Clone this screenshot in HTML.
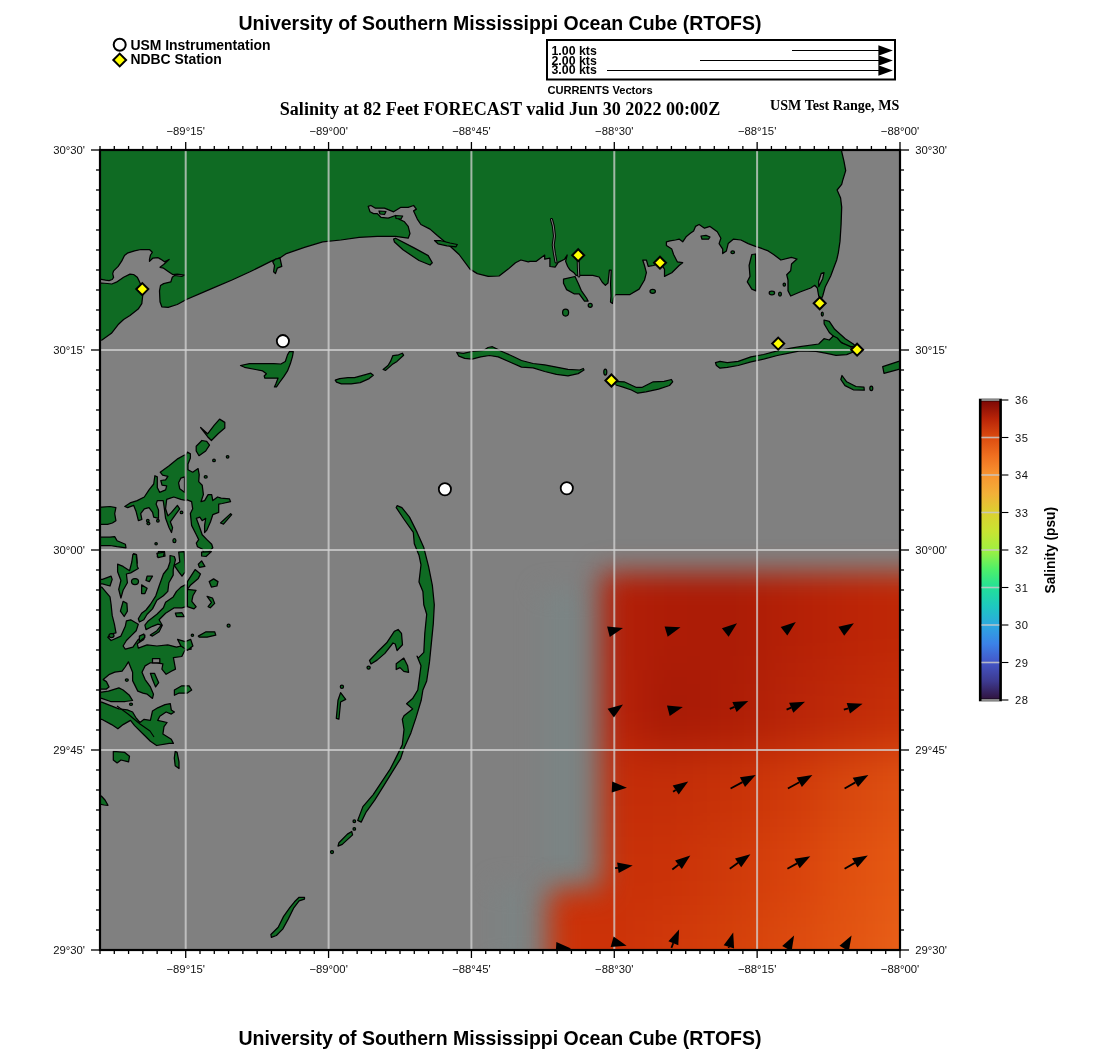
<!DOCTYPE html>
<html><head><meta charset="utf-8">
<style>
html,body{margin:0;padding:0;background:#fff;width:1100px;height:1050px;overflow:hidden}
svg{display:block;will-change:transform}
text{font-family:"Liberation Sans",sans-serif}
.sb{font-family:"Liberation Sans",sans-serif;font-weight:bold}
.sr{font-family:"Liberation Serif",serif;font-weight:bold}
.ax{font-size:11.3px;fill:#111}
</style></head><body>
<svg width="1100" height="1050" viewBox="0 0 1100 1050">
<defs>
<clipPath id="mapclip"><rect x="100" y="150" width="800" height="800"/></clipPath>
<filter id="blur" color-interpolation-filters="sRGB" x="-20%" y="-20%" width="140%" height="140%"><feGaussianBlur stdDeviation="12"/></filter>
<filter id="blurbig" color-interpolation-filters="sRGB" x="-30%" y="-30%" width="160%" height="160%"><feGaussianBlur stdDeviation="22"/></filter>
<filter id="blurm" color-interpolation-filters="sRGB" x="-20%" y="-20%" width="140%" height="140%"><feGaussianBlur stdDeviation="14"/></filter>
<mask id="fmask" maskUnits="userSpaceOnUse" x="0" y="0" width="1100" height="1050"><g filter="url(#blurm)"><rect x="601" y="572" width="400" height="500" fill="#fff"/><rect x="548" y="888" width="100" height="200" fill="#fff"/></g></mask>
<linearGradient id="cbar" x1="0" y1="1" x2="0" y2="0">
<stop offset="0" stop-color="#30123b"/>
<stop offset="0.0625" stop-color="#3d3a90"/>
<stop offset="0.125" stop-color="#4456c8"/>
<stop offset="0.1875" stop-color="#3b82e8"/>
<stop offset="0.25" stop-color="#2ca8e0"/>
<stop offset="0.3125" stop-color="#1ec8c0"/>
<stop offset="0.375" stop-color="#22e098"/>
<stop offset="0.4375" stop-color="#50f068"/>
<stop offset="0.5" stop-color="#a0f040"/>
<stop offset="0.5625" stop-color="#c8e432"/>
<stop offset="0.625" stop-color="#dcd030"/>
<stop offset="0.6875" stop-color="#f2b038"/>
<stop offset="0.75" stop-color="#f89430"/>
<stop offset="0.8125" stop-color="#f07020"/>
<stop offset="0.875" stop-color="#dc4c10"/>
<stop offset="0.9375" stop-color="#b82408"/>
<stop offset="1" stop-color="#7a0806"/>
</linearGradient>
</defs>

<!-- titles -->
<text class="sb" x="500" y="30.3" font-size="19.5" text-anchor="middle">University of Southern Mississippi Ocean Cube (RTOFS)</text>
<text class="sb" x="500" y="1045" font-size="19.5" text-anchor="middle">University of Southern Mississippi Ocean Cube (RTOFS)</text>

<!-- legend -->
<circle cx="119.7" cy="44.8" r="6" fill="#fff" stroke="#000" stroke-width="2"/>
<path d="M119.7 53.6 L126.1 60 L119.7 66.4 L113.3 60 Z" fill="#ffff00" stroke="#000" stroke-width="2"/>
<text class="sb" x="130.4" y="49.5" font-size="13.95">USM Instrumentation</text>
<text class="sb" x="130.4" y="64.2" font-size="13.95">NDBC Station</text>

<!-- vector legend -->
<rect x="547" y="40" width="348" height="39.5" fill="#fff" stroke="#000" stroke-width="2"/>
<text class="sb" x="551.5" y="54.6" font-size="12.35">1.00 kts</text>
<text class="sb" x="551.5" y="64.5" font-size="12.35">2.00 kts</text>
<text class="sb" x="551.5" y="74.3" font-size="12.35">3.00 kts</text>
<g stroke="#000" stroke-width="1">
<line x1="792" y1="50.5" x2="880" y2="50.5"/>
<line x1="700" y1="60.5" x2="880" y2="60.5"/>
<line x1="607" y1="70.5" x2="880" y2="70.5"/>
</g>
<g fill="#000">
<path d="M878.4 45.2 L892.8 50.5 L878.4 55.8 Z"/>
<path d="M878.4 55.2 L892.8 60.5 L878.4 65.8 Z"/>
<path d="M878.4 65.2 L892.8 70.5 L878.4 75.8 Z"/>
</g>
<text class="sb" x="547.4" y="93.9" font-size="11.15">CURRENTS Vectors</text>

<text class="sr" x="500" y="115" font-size="18.1" text-anchor="middle">Salinity at 82 Feet FORECAST valid Jun 30 2022 00:00Z</text>
<text class="sr" x="899.3" y="110.4" font-size="14.1" text-anchor="end">USM Test Range, MS</text>

<!-- MAP -->
<g clip-path="url(#mapclip)">
<rect x="100" y="150" width="800" height="800" fill="#808080"/>
<g id="field">
<g filter="url(#blur)"><rect x="542" y="590" width="50" height="300" fill="#7b8484"/><rect x="495" y="885" width="50" height="80" fill="#7c8383"/></g>
<g mask="url(#fmask)"><g filter="url(#blurbig)">
<rect x="540" y="533" width="100" height="137" fill="#b32008"/>
<rect x="640" y="533" width="60" height="137" fill="#ad1c06"/>
<rect x="700" y="533" width="60" height="137" fill="#ab1c06"/>
<rect x="760" y="533" width="60" height="137" fill="#b42006"/>
<rect x="820" y="533" width="60" height="137" fill="#bb2406"/>
<rect x="880" y="533" width="100" height="137" fill="#c02806"/>
<rect x="540" y="670" width="100" height="80" fill="#b82208"/>
<rect x="640" y="670" width="60" height="80" fill="#a81a06"/>
<rect x="700" y="670" width="60" height="80" fill="#ad1d06"/>
<rect x="760" y="670" width="60" height="80" fill="#b82408"/>
<rect x="820" y="670" width="60" height="80" fill="#c02a08"/>
<rect x="880" y="670" width="100" height="80" fill="#c83008"/>
<rect x="540" y="750" width="100" height="80" fill="#c42c08"/>
<rect x="640" y="750" width="60" height="80" fill="#c42e08"/>
<rect x="700" y="750" width="60" height="80" fill="#c83208"/>
<rect x="760" y="750" width="60" height="80" fill="#d03a0a"/>
<rect x="820" y="750" width="60" height="80" fill="#d8480e"/>
<rect x="880" y="750" width="100" height="80" fill="#e05212"/>
<rect x="540" y="830" width="100" height="80" fill="#c83008"/>
<rect x="640" y="830" width="60" height="80" fill="#ca3208"/>
<rect x="700" y="830" width="60" height="80" fill="#cf3a0a"/>
<rect x="760" y="830" width="60" height="80" fill="#d8420c"/>
<rect x="820" y="830" width="60" height="80" fill="#e0500f"/>
<rect x="880" y="830" width="100" height="80" fill="#e65a14"/>
<rect x="540" y="910" width="100" height="130" fill="#cc3208"/>
<rect x="640" y="910" width="60" height="130" fill="#d0380a"/>
<rect x="700" y="910" width="60" height="130" fill="#d4400a"/>
<rect x="760" y="910" width="60" height="130" fill="#dc4a0e"/>
<rect x="820" y="910" width="60" height="130" fill="#e25412"/>
<rect x="880" y="910" width="100" height="130" fill="#e86018"/>
<rect x="480" y="880" width="60" height="160" fill="#cc3008"/>
</g></g>
</g>
<g id="land" fill="#0f6b23" stroke="#000" stroke-width="1.25" stroke-linejoin="round">
<path d="M95.0 145.0 L841.7 145.0 L841.7 151.7 L844.0 161.4 L845.7 170.6 L842.9 179.7 L841.7 184.3 L837.1 190.0 L840.6 198.0 L841.7 207.1 L841.1 224.3 L840.0 241.4 L838.3 252.9 L836.7 260.0 L834.7 265.3 L830.7 276.0 L825.3 286.7 L822.7 296.0 L821.3 299.0 L818.7 296.0 L817.3 288.0 L814.7 285.3 L810.7 288.0 L800.0 292.0 L790.7 296.0 L788.0 290.7 L788.0 280.0 L786.7 274.7 L790.7 270.7 L791.5 264.0 L797.0 259.0 L791.4 257.4 L780.9 260.0 L773.6 254.5 L768.2 250.9 L760.9 248.2 L755.5 246.4 L748.2 243.6 L740.9 240.0 L733.6 239.1 L728.2 243.6 L726.4 250.9 L722.7 253.6 L722.7 249.1 L719.1 243.6 L720.9 238.2 L717.3 231.8 L710.0 226.4 L704.5 228.2 L699.1 224.5 L695.5 226.4 L693.6 230.9 L690.0 233.6 L686.4 236.4 L682.7 241.8 L679.1 239.1 L675.5 240.0 L670.0 240.9 L666.4 241.8 L666.4 245.5 L671.8 249.1 L673.6 254.5 L677.3 261.8 L682.7 262.7 L679.1 265.5 L671.8 272.7 L664.5 276.4 L664.5 269.1 L660.0 262.7 L653.6 265.5 L648.2 266.4 L646.4 260.0 L642.7 260.0 L644.5 265.5 L646.4 272.7 L644.5 280.0 L639.1 289.1 L630.0 294.5 L615.5 294.5 L613.5 298.0 L612.5 303.5 L610.5 302.0 L611.0 296.0 L610.6 284.0 L611.2 270.0 L609.4 270.0 L608.0 283.0 L605.4 285.4 L602.3 282.3 L599.1 277.0 L592.8 275.4 L584.5 275.4 L578.2 275.4 L576.1 275.4 L574.0 272.8 L569.8 269.7 L567.7 266.5 L565.6 261.3 L567.2 255.0 L564.6 259.2 L558.3 262.4 L555.1 267.1 L549.9 266.5 L549.9 258.2 L544.7 259.2 L544.7 255.0 L536.3 261.3 L530.0 261.3 L528.2 261.8 L520.9 260.0 L515.5 262.7 L508.2 269.1 L499.1 276.0 L488.2 276.4 L477.3 273.6 L470.0 269.1 L459.1 254.5 L448.2 244.5 L437.3 235.5 L430.0 229.1 L420.9 224.5 L417.3 219.1 L413.6 210.9 L416.4 209.1 L413.6 205.5 L408.2 207.3 L400.9 207.3 L393.6 211.8 L384.5 208.2 L375.5 208.2 L370.9 205.5 L368.2 206.4 L370.0 211.8 L373.6 213.6 L377.3 213.6 L380.9 217.3 L388.2 218.2 L395.5 215.5 L399.1 219.1 L404.5 221.8 L408.2 226.4 L410.0 233.6 L408.2 238.2 L395.5 236.4 L377.3 236.4 L359.1 237.3 L340.9 240.0 L322.7 241.8 L304.5 247.3 L286.4 253.6 L280.9 257.3 L271.8 260.9 L260.9 266.4 L250.0 271.8 L232.0 280.0 L214.0 287.6 L200.0 293.6 L186.4 299.5 L177.3 304.5 L168.2 307.3 L161.8 306.8 L160.0 301.8 L159.5 290.9 L160.5 285.5 L163.6 283.6 L170.9 281.8 L172.3 277.3 L174.5 275.5 L181.8 276.4 L184.5 275.0 L177.3 274.1 L172.7 274.5 L168.2 271.4 L163.6 268.2 L160.0 267.3 L163.6 264.5 L169.1 259.5 L164.5 261.8 L160.5 259.1 L158.2 257.7 L152.7 258.2 L149.5 261.4 L149.5 259.1 L150.5 255.0 L152.3 252.3 L149.5 249.5 L140.9 249.5 L134.5 250.9 L127.3 253.2 L124.5 255.5 L121.8 260.9 L118.2 266.4 L113.6 270.9 L112.7 273.6 L113.6 277.3 L112.2 279.5 L109.1 280.6 L105.5 280.2 L101.4 279.3 L95.0 279.3Z"/>
<path d="M95.0 283.0 L101.4 283.0 L107.3 283.5 L111.8 284.0 L116.4 282.2 L123.6 277.3 L130.0 274.1 L133.6 274.5 L137.3 277.3 L139.1 280.9 L141.0 285.0 L142.7 295.5 L141.8 303.6 L138.2 309.1 L130.0 315.5 L123.6 319.5 L118.0 324.8 L111.4 333.3 L102.0 340.0 L95.0 341.0Z"/>
<path d="M393.6 239.1 L395.5 238.2 L413.6 247.6 L428.2 255.6 L432.3 262.7 L430.0 265.0 L419.0 260.5 L403.0 249.8 L394.5 242.0Z"/>
<path d="M272.7 261.8 L275.5 259.1 L280.0 258.2 L281.8 266.4 L277.3 268.2 L275.5 273.6 L273.6 271.8 L274.5 265.5Z"/>
<path d="M434.5 240.5 L440.0 240.5 L450.0 243.0 L457.3 244.5 L456.0 246.8 L447.0 245.8 L438.0 243.8Z"/>
<path d="M379.0 211.0 L386.0 211.5 L384.5 214.5 L380.0 214.0Z"/>
<path d="M395.5 215.5 L402.7 216.0 L401.0 219.0 L396.0 218.5Z"/>
<path d="M563.5 279.1 L575.0 276.5 L578.2 283.3 L581.3 290.6 L586.5 298.0 L588.1 301.1 L584.5 301.1 L579.2 293.8 L574.0 293.8 L566.6 289.6 L563.5 283.3Z"/>
<path d="M701.0 236.0 L706.0 235.3 L710.0 237.0 L708.5 239.2 L702.0 239.2Z"/>
<path d="M751.8 254.5 L755.5 254.0 L756.0 272.7 L756.0 290.9 L751.8 289.1 L747.3 281.8 L750.0 276.4 L749.1 265.5Z"/>
<path d="M824.0 320.0 L829.3 321.3 L834.7 329.3 L845.3 338.7 L853.3 344.0 L856.0 346.7 L847.3 346.5 L836.7 339.2 L829.3 332.5 L824.2 324.0Z"/>
<path d="M715.5 362.7 L720.0 361.4 L727.3 362.7 L738.2 361.4 L750.9 356.8 L763.6 354.5 L777.3 350.9 L790.9 348.2 L800.0 346.7 L818.7 344.0 L824.0 338.7 L829.3 340.0 L833.3 336.0 L837.3 338.0 L841.3 342.7 L850.7 346.7 L853.3 352.0 L846.7 354.7 L836.0 355.3 L826.7 353.3 L816.0 351.3 L800.0 350.9 L786.4 353.6 L777.3 355.5 L763.6 359.1 L750.9 361.8 L738.2 365.5 L727.3 367.3 L720.0 368.2 L716.4 365.5Z"/>
<path d="M842.0 375.5 L846.7 381.8 L856.0 386.5 L864.0 387.2 L864.3 390.2 L853.3 389.8 L845.0 385.6 L840.8 379.5Z"/>
<path d="M882.7 366.7 L898.7 361.3 L905.0 361.0 L905.0 369.0 L898.7 369.3 L884.0 373.3Z"/>
<path d="M456.7 352.5 L463.3 353.3 L472.0 351.5 L483.6 350.4 L488.0 347.5 L492.4 346.7 L498.2 349.6 L502.5 351.8 L512.7 356.2 L521.5 360.5 L533.1 363.5 L544.7 364.9 L556.4 367.1 L568.0 369.3 L579.6 370.0 L583.3 368.5 L584.0 370.0 L578.2 373.6 L568.0 375.8 L556.4 374.4 L544.7 371.5 L533.1 367.8 L521.5 367.1 L509.8 362.0 L498.2 356.9 L489.5 355.5 L480.7 356.9 L472.0 359.1 L464.7 358.4 L458.9 356.2Z"/>
<path d="M335.2 380.2 L339.7 378.6 L347.9 377.7 L354.5 377.7 L361.8 375.7 L370.8 373.2 L373.3 375.3 L369.2 378.6 L360.2 382.6 L351.2 383.9 L341.4 383.9 L336.5 382.2Z"/>
<path d="M383.1 369.5 L388.0 365.5 L390.5 361.4 L392.9 355.6 L398.6 354.8 L402.3 353.2 L403.6 355.2 L397.0 361.4 L392.1 364.6 L385.6 370.4Z"/>
<path d="M614.1 381.4 L624.1 381.8 L635.9 387.3 L642.3 387.3 L653.2 381.8 L664.1 381.4 L671.4 379.5 L672.7 381.8 L669.5 385.5 L658.6 389.1 L645.9 391.8 L637.7 393.2 L631.4 390.0 L622.3 386.8 L615.9 385.0Z"/>
<path d="M240.5 365.5 L249.6 363.6 L262.7 363.6 L273.6 363.6 L280.9 364.0 L285.3 361.5 L287.5 354.9 L289.6 351.3 L293.3 351.6 L292.5 356.4 L290.4 363.6 L287.5 370.9 L283.8 376.7 L279.5 382.5 L276.5 386.9 L274.4 386.9 L275.8 384.0 L278.0 378.2 L273.6 378.2 L264.9 378.2 L264.2 376.0 L266.4 373.8 L262.7 370.9 L255.5 369.5 L244.5 367.3Z"/>
<path d="M200.6 427.5 L207.6 433.8 L214.3 425.2 L219.6 419.1 L224.8 422.4 L224.8 428.1 L218.1 433.8 L211.4 440.5 L207.6 436.7Z"/>
<path d="M196.2 446.2 L201.9 440.5 L206.7 441.4 L209.5 445.2 L205.7 451.0 L199.0 455.7 L196.2 451.0Z"/>
<path d="M184.5 455.0 L178.0 458.6 L169.1 465.7 L160.2 472.2 L162.6 475.1 L167.9 476.3 L165.6 479.9 L160.8 480.5 L162.0 485.2 L166.7 485.8 L165.6 489.9 L159.6 492.3 L157.3 487.6 L157.3 476.9 L154.9 475.7 L153.7 484.0 L149.0 489.9 L144.3 497.0 L137.2 500.6 L130.1 502.9 L124.8 506.5 L127.7 507.6 L133.6 505.3 L136.0 511.2 L138.4 520.7 L141.9 519.5 L140.7 513.6 L144.3 508.8 L149.0 507.6 L152.6 512.4 L153.7 517.1 L158.5 518.3 L158.5 510.0 L156.1 504.1 L157.3 500.6 L163.2 500.6 L164.4 508.8 L165.6 518.3 L169.1 527.7 L171.5 532.5 L172.6 527.7 L170.3 521.8 L176.2 513.6 L179.7 508.8 L177.4 505.3 L171.5 512.4 L167.9 515.9 L165.6 508.8 L166.7 499.4 L170.3 498.2 L173.8 497.0 L180.9 499.4 L186.5 500.6 L186.5 455.0Z"/>
<path d="M187.4 452.1 L190.4 453.9 L190.4 458.0 L188.0 463.9 L188.0 469.8 L192.7 472.2 L198.1 468.6 L199.2 474.6 L198.7 481.6 L202.2 485.2 L203.4 494.6 L201.0 501.7 L204.6 500.6 L208.1 494.6 L211.7 494.6 L212.8 500.6 L217.6 497.0 L221.1 498.2 L229.4 498.8 L230.6 501.7 L222.3 503.5 L218.7 504.1 L218.7 512.4 L212.8 514.7 L210.5 521.8 L206.9 530.1 L204.6 532.5 L204.6 525.4 L205.7 518.3 L202.2 520.7 L199.8 517.1 L196.3 518.3 L199.8 527.7 L202.2 534.8 L206.9 539.6 L211.7 544.3 L212.8 547.8 L209.3 551.4 L204.6 554.9 L202.2 549.0 L197.5 546.7 L196.3 543.1 L198.7 539.6 L196.3 534.8 L191.6 525.4 L190.4 513.6 L192.7 508.8 L191.6 501.7 L186.0 499.4 L186.0 455.0Z"/>
<path d="M230.6 513.6 L231.7 514.7 L223.5 524.2 L220.5 523.0Z"/>
<path d="M95.0 507.1 L101.9 507.1 L110.0 506.5 L115.9 507.6 L114.7 513.6 L115.9 520.7 L112.4 523.0 L107.6 524.3 L95.0 524.3Z"/>
<path d="M95.0 537.2 L110.0 537.2 L114.7 536.6 L117.1 540.7 L125.4 544.3 L126.0 547.8 L117.1 546.7 L110.0 545.5 L95.0 545.5Z"/>
<path d="M158.5 551.4 L164.4 551.4 L165.0 556.1 L157.3 556.7Z"/>
<path d="M133.6 553.7 L136.6 554.9 L137.2 563.2 L133.0 562.0Z"/>
<path d="M95.0 587.0 L101.8 587.1 L104.5 590.3 L110.0 596.9 L111.1 604.5 L112.2 615.4 L114.4 624.2 L116.0 632.9 L111.1 634.0 L107.8 637.2 L111.1 640.5 L120.9 636.1 L125.3 626.3 L126.4 620.9 L130.7 619.8 L138.3 624.2 L136.2 630.7 L131.8 635.1 L126.4 640.5 L123.1 646.0 L125.3 649.2 L132.9 647.1 L138.3 639.4 L144.9 635.1 L143.8 639.4 L137.3 643.8 L138.3 648.1 L147.1 644.9 L156.9 646.0 L167.8 644.9 L176.5 647.1 L184.9 645.0 L190.1 645.0 L191.2 649.2 L184.9 650.2 L181.8 656.5 L173.4 657.6 L175.5 669.1 L171.3 671.2 L166.1 674.3 L161.9 669.1 L162.9 663.8 L156.6 662.8 L150.4 662.8 L145.1 665.9 L142.0 672.2 L145.1 679.6 L150.4 686.9 L153.5 694.2 L152.5 698.4 L147.2 694.2 L143.0 693.2 L137.8 691.1 L132.6 680.6 L132.6 672.2 L128.4 661.8 L125.2 667.0 L122.1 671.2 L114.8 672.2 L109.5 674.3 L103.2 679.6 L106.4 681.6 L109.0 686.9 L106.4 689.0 L101.7 689.0 L95.0 689.0Z"/>
<path d="M170.0 555.5 L174.3 556.5 L175.4 559.8 L173.2 569.6 L173.2 575.1 L168.9 582.7 L167.8 591.4 L163.4 595.8 L156.9 600.2 L152.5 608.9 L147.1 614.3 L143.8 619.8 L139.4 622.0 L138.3 618.7 L141.6 613.2 L146.0 610.0 L150.3 604.5 L155.8 595.8 L159.1 586.0 L163.4 574.0 L167.8 568.5 L170.0 562.0Z"/>
<path d="M185.2 584.9 L180.9 587.1 L176.5 591.4 L173.2 596.9 L165.6 602.3 L163.4 607.8 L156.9 614.3 L148.2 620.9 L144.9 625.2 L146.0 629.6 L152.5 626.3 L158.0 624.2 L161.3 625.2 L156.9 630.7 L150.3 635.1 L152.5 636.1 L159.1 631.8 L162.3 625.2 L159.1 619.8 L165.6 613.2 L174.3 607.8 L182.0 607.8 L186.0 606.7 L186.0 584.9Z"/>
<path d="M187.4 581.6 L195.1 569.6 L200.5 574.0 L198.3 578.4 L190.7 584.9 L187.4 589.3 L196.1 590.3 L192.9 595.8 L191.8 601.3 L196.1 606.7 L194.0 608.9 L187.4 606.7Z"/>
<path d="M178.7 552.2 L184.2 551.6 L185.2 571.8 L182.0 576.2 L178.7 571.8 L174.3 565.3 L179.8 562.0Z"/>
<path d="M132.9 554.4 L136.2 554.4 L137.3 566.4 L138.3 568.5 L130.7 572.9 L126.4 574.0 L127.4 582.7 L123.1 590.3 L120.9 598.0 L118.7 589.3 L120.9 580.5 L117.6 571.8 L117.6 564.2 L123.1 566.4 L129.6 570.7 L131.8 562.0Z"/>
<path d="M95.0 579.4 L102.4 579.4 L111.1 576.2 L112.2 579.4 L110.0 586.0 L102.4 583.8 L95.0 583.8Z"/>
<path d="M123.1 601.3 L126.9 603.4 L127.4 611.1 L124.2 616.5 L120.4 611.1Z"/>
<path d="M141.6 584.9 L147.1 588.2 L144.9 593.6 L141.6 593.6Z"/>
<path d="M147.1 576.2 L152.5 576.2 L149.3 581.6 L146.0 580.5Z"/>
<path d="M156.9 553.3 L164.5 552.2 L163.4 556.5 L158.0 557.6Z"/>
<path d="M198.3 564.2 L201.6 560.9 L204.9 566.4 L199.4 567.4Z"/>
<path d="M201.6 552.2 L211.4 551.6 L206.0 556.5 L201.6 556.0Z"/>
<path d="M209.2 581.6 L213.6 578.9 L218.0 581.6 L216.9 586.0 L211.4 587.1Z"/>
<path d="M207.1 596.3 L212.5 598.0 L214.7 603.4 L210.3 607.8 L208.1 606.7 L211.4 602.3Z"/>
<path d="M175.4 613.2 L182.0 612.7 L184.2 616.5 L176.5 616.5Z"/>
<path d="M198.3 636.1 L206.0 631.8 L214.7 631.8 L215.8 635.1 L207.1 637.2 L199.4 637.2Z"/>
<path d="M177.6 639.4 L185.2 641.6 L190.7 639.4 L192.9 646.0 L187.4 650.3 L180.9 646.0Z"/>
<path d="M139.4 636.1 L143.8 634.0 L144.9 637.2 L139.4 641.6Z"/>
<path d="M150.4 673.3 L154.5 673.3 L158.7 682.7 L155.6 686.9 L152.5 679.6Z"/>
<path d="M174.4 690.0 L181.8 685.8 L189.1 685.8 L191.7 690.0 L187.0 693.2 L178.6 693.2 L174.4 695.3Z"/>
<path d="M95.0 692.1 L101.7 692.1 L108.5 691.1 L118.9 687.9 L123.1 690.0 L129.4 695.3 L132.6 700.5 L125.2 701.5 L116.8 701.5 L110.6 701.5 L101.7 698.4 L95.0 698.4Z"/>
<path d="M95.0 702.1 L101.7 702.1 L110.6 705.7 L118.9 708.9 L127.3 709.9 L132.6 712.0 L135.7 717.3 L139.9 722.5 L144.1 719.3 L150.4 720.4 L152.5 711.0 L157.7 707.8 L165.0 704.7 L170.3 703.6 L171.3 709.9 L174.4 712.0 L171.3 714.1 L166.1 712.0 L159.8 716.2 L157.7 720.4 L167.1 722.5 L164.0 726.7 L162.9 734.0 L171.3 739.2 L173.4 743.4 L169.2 743.4 L156.6 745.5 L150.4 741.3 L144.1 735.0 L134.6 725.6 L130.5 720.4 L123.1 724.6 L117.9 728.8 L111.6 724.6 L101.7 719.3 L95.0 719.3Z"/>
<path d="M113.3 751.4 L124.8 752.4 L129.5 756.2 L128.6 761.9 L121.0 760.0 L117.1 762.9 L113.3 760.0Z"/>
<path d="M175.2 751.4 L177.1 752.4 L179.0 761.9 L179.0 768.6 L175.2 765.7 L174.3 758.1Z"/>
<path d="M95.0 795.0 L101.3 796.0 L105.0 800.0 L108.0 805.3 L104.0 805.0 L95.0 803.0Z"/>
<path d="M397.1 505.7 L401.9 507.6 L409.5 517.1 L417.1 532.4 L423.8 547.6 L428.6 566.7 L432.4 585.7 L434.3 604.8 L433.3 623.8 L431.4 642.9 L429.5 661.9 L426.7 681.0 L422.9 690.0 L421.2 700.3 L416.1 717.4 L410.9 732.9 L404.0 748.3 L400.6 758.6 L392.0 772.3 L383.5 786.1 L374.9 799.8 L366.3 811.8 L361.2 822.1 L357.7 820.4 L362.9 806.6 L373.2 794.6 L383.5 779.2 L390.3 768.9 L395.5 758.6 L402.3 744.9 L404.0 729.5 L402.3 719.2 L404.0 715.7 L412.6 708.9 L406.6 703.7 L412.6 698.6 L417.8 690.0 L419.0 681.0 L421.0 665.7 L417.1 656.2 L418.1 658.1 L423.8 652.4 L424.8 633.3 L426.7 614.3 L423.8 604.8 L422.9 591.4 L419.0 581.9 L421.0 564.8 L419.0 555.2 L414.3 543.8 L413.3 532.4 L403.8 519.0 L396.2 507.6Z"/>
<path d="M369.5 660.5 L377.1 652.3 L386.7 642.8 L394.3 631.4 L398.1 629.5 L401.5 633.3 L402.5 644.8 L397.1 650.5 L395.2 644.0 L393.0 643.0 L384.9 653.4 L377.1 660.1 L371.0 664.0Z"/>
<path d="M396.2 663.8 L403.8 658.1 L407.6 665.7 L408.6 672.4 L403.8 671.4 L400.0 667.6 L396.2 669.5Z"/>
<path d="M340.6 692.6 L345.7 699.4 L340.6 702.0 L338.9 719.2 L336.3 718.3 L338.0 700.3Z"/>
<path d="M351.7 831.5 L352.6 834.9 L342.3 844.4 L338.0 846.1 L338.9 842.7 L347.4 834.1Z"/>
<path d="M304.5 897.3 L299.1 897.3 L294.5 901.8 L290.0 907.3 L283.6 916.4 L278.2 927.3 L270.9 934.5 L271.4 937.3 L276.4 935.5 L282.7 929.1 L288.2 919.1 L293.6 908.2 L299.1 900.9 L304.5 899.1Z"/>
<ellipse cx="590.2" cy="305.3" rx="2" ry="2"/>
<ellipse cx="565.6" cy="312.5" rx="3" ry="3.5"/>
<ellipse cx="732.7" cy="252.2" rx="1.8" ry="1.4"/>
<ellipse cx="652.7" cy="291.3" rx="2.7" ry="2"/>
<ellipse cx="771.9" cy="293" rx="2.7" ry="1.8"/>
<ellipse cx="780" cy="294" rx="1.4" ry="2"/>
<ellipse cx="784.3" cy="284.6" rx="1.2" ry="1.6"/>
<ellipse cx="871.3" cy="388.3" rx="1.5" ry="2.3"/>
<ellipse cx="822.3" cy="314" rx="1" ry="2"/>
<ellipse cx="605.3" cy="372" rx="1.5" ry="3"/>
<ellipse cx="368.6" cy="667.6" rx="1.6" ry="1.6"/>
<ellipse cx="341.9" cy="686.7" rx="1.6" ry="1.6"/>
<ellipse cx="354.3" cy="821.2" rx="1.3" ry="1.3"/>
<ellipse cx="354.3" cy="828.9" rx="1.3" ry="1.3"/>
<ellipse cx="332" cy="852.1" rx="1.5" ry="1.5"/>
<ellipse cx="192.4" cy="635.2" rx="1.2" ry="1.2"/>
<ellipse cx="228.6" cy="625.7" rx="1.5" ry="1.5"/>
<ellipse cx="214" cy="460.4" rx="1.3" ry="1.3"/>
<ellipse cx="227.6" cy="456.8" rx="1.3" ry="1.3"/>
<ellipse cx="205.7" cy="476.9" rx="1.5" ry="1.2"/>
<ellipse cx="181.5" cy="512.4" rx="1.3" ry="1.3"/>
<ellipse cx="157.9" cy="520.7" rx="1.3" ry="1.3"/>
<ellipse cx="147.8" cy="520.7" rx="1.3" ry="1.3"/>
<ellipse cx="174.4" cy="540.7" rx="1.5" ry="2"/>
<ellipse cx="156.1" cy="543.7" rx="1.2" ry="1.2"/>
<ellipse cx="148.4" cy="523.6" rx="1.5" ry="1.2"/>
<ellipse cx="135" cy="581.6" rx="3.5" ry="3"/>
<ellipse cx="131" cy="704.2" rx="1.5" ry="1.2"/>
<ellipse cx="126.8" cy="680.1" rx="1.5" ry="1.2"/>
<ellipse cx="111.5" cy="635.5" rx="2.5" ry="2"/>
<path fill="#808080" d="M818.7 286.7 L822.7 278.7 L824.0 272.7 L821.3 273.3 L818.7 281.3Z"/>
<path fill="#808080" d="M180.9 478.1 L184.5 476.9 L184.5 492.3 L179.7 488.7 L178.6 482.8Z"/>
<path fill="#808080" d="M152.5 658.6 L159.8 658.6 L159.8 662.8 L152.5 662.8Z"/>
<path fill="none" stroke="#000" stroke-width="1.1" d="M117.0 706.0 L128.0 714.0 L140.0 724.0 L150.0 731.0 L154.0 737.0"/>
<path fill="none" stroke="#000" stroke-width="3.0" stroke-linecap="round" d="M551.5 219.5 L553.3 226.0 L554.5 236.0 L553.2 245.0 L554.5 254.0 L556.0 262.0"/>
<path fill="none" stroke="#808080" stroke-width="1.0" stroke-linecap="round" d="M551.5 219.5 L553.3 226.0 L554.5 236.0 L553.2 245.0 L554.5 254.0 L556.0 262.0"/>
<path fill="none" stroke="#000" stroke-width="3.0" stroke-linecap="round" d="M578.2 261.0 L578.4 268.0 L578.8 276.0"/>
<path fill="none" stroke="#808080" stroke-width="1.0" stroke-linecap="round" d="M578.2 261.0 L578.4 268.0 L578.8 276.0"/>
</g>
<g id="grid" stroke="#d3d3d3" stroke-opacity="0.75" stroke-width="2">
<line x1="185.7" y1="150" x2="185.7" y2="950"/>
<line x1="328.6" y1="150" x2="328.6" y2="950"/>
<line x1="471.4" y1="150" x2="471.4" y2="950"/>
<line x1="614.3" y1="150" x2="614.3" y2="950"/>
<line x1="757.1" y1="150" x2="757.1" y2="950"/>
<line x1="100" y1="350" x2="900" y2="350"/>
<line x1="100" y1="550" x2="900" y2="550"/>
<line x1="100" y1="750" x2="900" y2="750"/>
</g>
<g id="vectors" fill="#000" stroke="#000">
<path stroke="none" d="M623.0 627.9 L609.8 636.9 L607.1 626.5 Z"/>
<path stroke="none" d="M680.5 627.2 L667.7 636.7 L664.6 626.4 Z"/>
<path stroke="none" d="M737.0 623.2 L728.6 636.7 L721.9 628.2 Z"/>
<path stroke="none" d="M795.8 621.9 L787.3 635.4 L780.7 626.9 Z"/>
<path stroke="none" d="M853.9 623.2 L844.2 635.8 L838.4 626.7 Z"/>
<path stroke="none" d="M623.0 704.5 L613.9 717.6 L607.6 708.8 Z"/>
<path stroke="none" d="M682.9 707.1 L669.7 716.0 L667.0 705.5 Z"/>
<line x1="729.8" y1="708.9" x2="734.5" y2="706.9" stroke-width="1.8"/>
<path stroke="none" d="M748.3 701.0 L736.6 711.9 L732.4 701.9 Z"/>
<line x1="786.6" y1="709.7" x2="791.2" y2="707.7" stroke-width="1.8"/>
<path stroke="none" d="M805.0 701.8 L793.3 712.7 L789.1 702.8 Z"/>
<line x1="843.8" y1="709.7" x2="848.3" y2="708.3" stroke-width="1.8"/>
<path stroke="none" d="M862.6 703.7 L850.0 713.4 L846.7 703.1 Z"/>
<path stroke="none" d="M626.9 787.7 L611.7 792.4 L612.2 781.6 Z"/>
<line x1="673.1" y1="791.7" x2="675.7" y2="789.9" stroke-width="1.8"/>
<path stroke="none" d="M688.2 781.6 L678.7 794.4 L672.7 785.5 Z"/>
<line x1="730.6" y1="788.5" x2="742.5" y2="782.1" stroke-width="1.8"/>
<path stroke="none" d="M755.7 775.0 L745.0 786.9 L739.9 777.3 Z"/>
<line x1="787.9" y1="788.5" x2="799.3" y2="782.2" stroke-width="1.8"/>
<path stroke="none" d="M812.4 775.0 L801.9 787.0 L796.7 777.5 Z"/>
<line x1="844.6" y1="788.5" x2="855.4" y2="782.4" stroke-width="1.8"/>
<path stroke="none" d="M868.4 775.0 L858.0 787.1 L852.7 777.7 Z"/>
<line x1="615.1" y1="868.2" x2="617.9" y2="867.8" stroke-width="1.8"/>
<path stroke="none" d="M632.7 865.5 L618.7 873.1 L617.1 862.4 Z"/>
<line x1="672.3" y1="869.5" x2="678.5" y2="864.7" stroke-width="1.8"/>
<path stroke="none" d="M690.3 855.5 L681.8 869.0 L675.1 860.4 Z"/>
<line x1="729.8" y1="868.7" x2="738.1" y2="862.8" stroke-width="1.8"/>
<path stroke="none" d="M750.4 854.2 L741.2 867.2 L735.0 858.4 Z"/>
<line x1="787.4" y1="868.7" x2="797.1" y2="863.4" stroke-width="1.8"/>
<path stroke="none" d="M810.3 856.3 L799.7 868.2 L794.5 858.7 Z"/>
<line x1="844.6" y1="868.7" x2="854.8" y2="862.9" stroke-width="1.8"/>
<path stroke="none" d="M867.8 855.5 L857.4 867.6 L852.1 858.2 Z"/>
<path stroke="none" d="M571.0 948.5 L555.7 952.9 L556.4 942.1 Z"/>
<path stroke="none" d="M626.6 945.7 L610.7 946.9 L613.6 936.5 Z"/>
<line x1="671.4" y1="947.9" x2="673.3" y2="943.2" stroke-width="1.8"/>
<path stroke="none" d="M679.1 929.4 L678.3 945.3 L668.4 941.2 Z"/>
<line x1="728.6" y1="947.9" x2="728.9" y2="946.9" stroke-width="1.8"/>
<path stroke="none" d="M733.2 932.5 L734.1 948.4 L723.7 945.3 Z"/>
<path stroke="none" d="M794.1 935.5 L791.6 951.2 L782.2 946.1 Z"/>
<path stroke="none" d="M851.6 935.5 L848.8 951.2 L839.5 945.8 Z"/>
</g>
<g id="markers">
<path d="M142.3 283.1 L148.3 289.1 L142.3 295.1 L136.3 289.1 Z" fill="#ffff00" stroke="#000" stroke-width="2"/>
<path d="M578.2 249.2 L584.2 255.2 L578.2 261.2 L572.2 255.2 Z" fill="#ffff00" stroke="#000" stroke-width="2"/>
<path d="M660 256.7 L666.0 262.7 L660 268.7 L654.0 262.7 Z" fill="#ffff00" stroke="#000" stroke-width="2"/>
<path d="M819.7 297.3 L825.7 303.3 L819.7 309.3 L813.7 303.3 Z" fill="#ffff00" stroke="#000" stroke-width="2"/>
<path d="M778.2 337.6 L784.2 343.6 L778.2 349.6 L772.2 343.6 Z" fill="#ffff00" stroke="#000" stroke-width="2"/>
<path d="M857.1 343.7 L863.1 349.7 L857.1 355.7 L851.1 349.7 Z" fill="#ffff00" stroke="#000" stroke-width="2"/>
<path d="M611.4 374.5 L617.4 380.5 L611.4 386.5 L605.4 380.5 Z" fill="#ffff00" stroke="#000" stroke-width="2"/>
<circle cx="282.9" cy="341.1" r="6.1" fill="#fff" stroke="#000" stroke-width="1.8"/>
<circle cx="444.9" cy="489.2" r="6.1" fill="#fff" stroke="#000" stroke-width="1.8"/>
<circle cx="566.8" cy="488.2" r="6.1" fill="#fff" stroke="#000" stroke-width="1.8"/>
</g>
</g>
<!-- frame -->
<rect x="100" y="150" width="800" height="800" fill="none" stroke="#000" stroke-width="2.2"/>
<g id="ticks" stroke="#000" stroke-width="1.3">
<line x1="100.00" y1="146" x2="100.00" y2="149"/>
<line x1="100.00" y1="951" x2="100.00" y2="954"/>
<line x1="114.29" y1="146" x2="114.29" y2="149"/>
<line x1="114.29" y1="951" x2="114.29" y2="954"/>
<line x1="128.57" y1="146" x2="128.57" y2="149"/>
<line x1="128.57" y1="951" x2="128.57" y2="954"/>
<line x1="142.86" y1="146" x2="142.86" y2="149"/>
<line x1="142.86" y1="951" x2="142.86" y2="954"/>
<line x1="157.14" y1="146" x2="157.14" y2="149"/>
<line x1="157.14" y1="951" x2="157.14" y2="954"/>
<line x1="171.43" y1="146" x2="171.43" y2="149"/>
<line x1="171.43" y1="951" x2="171.43" y2="954"/>
<line x1="185.71" y1="142" x2="185.71" y2="149"/>
<line x1="185.71" y1="951" x2="185.71" y2="958"/>
<line x1="200.00" y1="146" x2="200.00" y2="149"/>
<line x1="200.00" y1="951" x2="200.00" y2="954"/>
<line x1="214.29" y1="146" x2="214.29" y2="149"/>
<line x1="214.29" y1="951" x2="214.29" y2="954"/>
<line x1="228.57" y1="146" x2="228.57" y2="149"/>
<line x1="228.57" y1="951" x2="228.57" y2="954"/>
<line x1="242.86" y1="146" x2="242.86" y2="149"/>
<line x1="242.86" y1="951" x2="242.86" y2="954"/>
<line x1="257.14" y1="146" x2="257.14" y2="149"/>
<line x1="257.14" y1="951" x2="257.14" y2="954"/>
<line x1="271.43" y1="146" x2="271.43" y2="149"/>
<line x1="271.43" y1="951" x2="271.43" y2="954"/>
<line x1="285.71" y1="146" x2="285.71" y2="149"/>
<line x1="285.71" y1="951" x2="285.71" y2="954"/>
<line x1="300.00" y1="146" x2="300.00" y2="149"/>
<line x1="300.00" y1="951" x2="300.00" y2="954"/>
<line x1="314.29" y1="146" x2="314.29" y2="149"/>
<line x1="314.29" y1="951" x2="314.29" y2="954"/>
<line x1="328.57" y1="142" x2="328.57" y2="149"/>
<line x1="328.57" y1="951" x2="328.57" y2="958"/>
<line x1="342.86" y1="146" x2="342.86" y2="149"/>
<line x1="342.86" y1="951" x2="342.86" y2="954"/>
<line x1="357.14" y1="146" x2="357.14" y2="149"/>
<line x1="357.14" y1="951" x2="357.14" y2="954"/>
<line x1="371.43" y1="146" x2="371.43" y2="149"/>
<line x1="371.43" y1="951" x2="371.43" y2="954"/>
<line x1="385.71" y1="146" x2="385.71" y2="149"/>
<line x1="385.71" y1="951" x2="385.71" y2="954"/>
<line x1="400.00" y1="146" x2="400.00" y2="149"/>
<line x1="400.00" y1="951" x2="400.00" y2="954"/>
<line x1="414.29" y1="146" x2="414.29" y2="149"/>
<line x1="414.29" y1="951" x2="414.29" y2="954"/>
<line x1="428.57" y1="146" x2="428.57" y2="149"/>
<line x1="428.57" y1="951" x2="428.57" y2="954"/>
<line x1="442.86" y1="146" x2="442.86" y2="149"/>
<line x1="442.86" y1="951" x2="442.86" y2="954"/>
<line x1="457.14" y1="146" x2="457.14" y2="149"/>
<line x1="457.14" y1="951" x2="457.14" y2="954"/>
<line x1="471.43" y1="142" x2="471.43" y2="149"/>
<line x1="471.43" y1="951" x2="471.43" y2="958"/>
<line x1="485.71" y1="146" x2="485.71" y2="149"/>
<line x1="485.71" y1="951" x2="485.71" y2="954"/>
<line x1="500.00" y1="146" x2="500.00" y2="149"/>
<line x1="500.00" y1="951" x2="500.00" y2="954"/>
<line x1="514.29" y1="146" x2="514.29" y2="149"/>
<line x1="514.29" y1="951" x2="514.29" y2="954"/>
<line x1="528.57" y1="146" x2="528.57" y2="149"/>
<line x1="528.57" y1="951" x2="528.57" y2="954"/>
<line x1="542.86" y1="146" x2="542.86" y2="149"/>
<line x1="542.86" y1="951" x2="542.86" y2="954"/>
<line x1="557.14" y1="146" x2="557.14" y2="149"/>
<line x1="557.14" y1="951" x2="557.14" y2="954"/>
<line x1="571.43" y1="146" x2="571.43" y2="149"/>
<line x1="571.43" y1="951" x2="571.43" y2="954"/>
<line x1="585.71" y1="146" x2="585.71" y2="149"/>
<line x1="585.71" y1="951" x2="585.71" y2="954"/>
<line x1="600.00" y1="146" x2="600.00" y2="149"/>
<line x1="600.00" y1="951" x2="600.00" y2="954"/>
<line x1="614.29" y1="142" x2="614.29" y2="149"/>
<line x1="614.29" y1="951" x2="614.29" y2="958"/>
<line x1="628.57" y1="146" x2="628.57" y2="149"/>
<line x1="628.57" y1="951" x2="628.57" y2="954"/>
<line x1="642.86" y1="146" x2="642.86" y2="149"/>
<line x1="642.86" y1="951" x2="642.86" y2="954"/>
<line x1="657.14" y1="146" x2="657.14" y2="149"/>
<line x1="657.14" y1="951" x2="657.14" y2="954"/>
<line x1="671.43" y1="146" x2="671.43" y2="149"/>
<line x1="671.43" y1="951" x2="671.43" y2="954"/>
<line x1="685.71" y1="146" x2="685.71" y2="149"/>
<line x1="685.71" y1="951" x2="685.71" y2="954"/>
<line x1="700.00" y1="146" x2="700.00" y2="149"/>
<line x1="700.00" y1="951" x2="700.00" y2="954"/>
<line x1="714.29" y1="146" x2="714.29" y2="149"/>
<line x1="714.29" y1="951" x2="714.29" y2="954"/>
<line x1="728.57" y1="146" x2="728.57" y2="149"/>
<line x1="728.57" y1="951" x2="728.57" y2="954"/>
<line x1="742.86" y1="146" x2="742.86" y2="149"/>
<line x1="742.86" y1="951" x2="742.86" y2="954"/>
<line x1="757.14" y1="142" x2="757.14" y2="149"/>
<line x1="757.14" y1="951" x2="757.14" y2="958"/>
<line x1="771.43" y1="146" x2="771.43" y2="149"/>
<line x1="771.43" y1="951" x2="771.43" y2="954"/>
<line x1="785.71" y1="146" x2="785.71" y2="149"/>
<line x1="785.71" y1="951" x2="785.71" y2="954"/>
<line x1="800.00" y1="146" x2="800.00" y2="149"/>
<line x1="800.00" y1="951" x2="800.00" y2="954"/>
<line x1="814.29" y1="146" x2="814.29" y2="149"/>
<line x1="814.29" y1="951" x2="814.29" y2="954"/>
<line x1="828.57" y1="146" x2="828.57" y2="149"/>
<line x1="828.57" y1="951" x2="828.57" y2="954"/>
<line x1="842.86" y1="146" x2="842.86" y2="149"/>
<line x1="842.86" y1="951" x2="842.86" y2="954"/>
<line x1="857.14" y1="146" x2="857.14" y2="149"/>
<line x1="857.14" y1="951" x2="857.14" y2="954"/>
<line x1="871.43" y1="146" x2="871.43" y2="149"/>
<line x1="871.43" y1="951" x2="871.43" y2="954"/>
<line x1="885.71" y1="146" x2="885.71" y2="149"/>
<line x1="885.71" y1="951" x2="885.71" y2="954"/>
<line x1="900.00" y1="142" x2="900.00" y2="149"/>
<line x1="900.00" y1="951" x2="900.00" y2="958"/>
<line x1="91" y1="150" x2="99" y2="150"/>
<line x1="901" y1="150" x2="909" y2="150"/>
<line x1="96" y1="170" x2="99" y2="170"/>
<line x1="901" y1="170" x2="904" y2="170"/>
<line x1="96" y1="190" x2="99" y2="190"/>
<line x1="901" y1="190" x2="904" y2="190"/>
<line x1="96" y1="210" x2="99" y2="210"/>
<line x1="901" y1="210" x2="904" y2="210"/>
<line x1="96" y1="230" x2="99" y2="230"/>
<line x1="901" y1="230" x2="904" y2="230"/>
<line x1="96" y1="250" x2="99" y2="250"/>
<line x1="901" y1="250" x2="904" y2="250"/>
<line x1="96" y1="270" x2="99" y2="270"/>
<line x1="901" y1="270" x2="904" y2="270"/>
<line x1="96" y1="290" x2="99" y2="290"/>
<line x1="901" y1="290" x2="904" y2="290"/>
<line x1="96" y1="310" x2="99" y2="310"/>
<line x1="901" y1="310" x2="904" y2="310"/>
<line x1="96" y1="330" x2="99" y2="330"/>
<line x1="901" y1="330" x2="904" y2="330"/>
<line x1="91" y1="350" x2="99" y2="350"/>
<line x1="901" y1="350" x2="909" y2="350"/>
<line x1="96" y1="370" x2="99" y2="370"/>
<line x1="901" y1="370" x2="904" y2="370"/>
<line x1="96" y1="390" x2="99" y2="390"/>
<line x1="901" y1="390" x2="904" y2="390"/>
<line x1="96" y1="410" x2="99" y2="410"/>
<line x1="901" y1="410" x2="904" y2="410"/>
<line x1="96" y1="430" x2="99" y2="430"/>
<line x1="901" y1="430" x2="904" y2="430"/>
<line x1="96" y1="450" x2="99" y2="450"/>
<line x1="901" y1="450" x2="904" y2="450"/>
<line x1="96" y1="470" x2="99" y2="470"/>
<line x1="901" y1="470" x2="904" y2="470"/>
<line x1="96" y1="490" x2="99" y2="490"/>
<line x1="901" y1="490" x2="904" y2="490"/>
<line x1="96" y1="510" x2="99" y2="510"/>
<line x1="901" y1="510" x2="904" y2="510"/>
<line x1="96" y1="530" x2="99" y2="530"/>
<line x1="901" y1="530" x2="904" y2="530"/>
<line x1="91" y1="550" x2="99" y2="550"/>
<line x1="901" y1="550" x2="909" y2="550"/>
<line x1="96" y1="570" x2="99" y2="570"/>
<line x1="901" y1="570" x2="904" y2="570"/>
<line x1="96" y1="590" x2="99" y2="590"/>
<line x1="901" y1="590" x2="904" y2="590"/>
<line x1="96" y1="610" x2="99" y2="610"/>
<line x1="901" y1="610" x2="904" y2="610"/>
<line x1="96" y1="630" x2="99" y2="630"/>
<line x1="901" y1="630" x2="904" y2="630"/>
<line x1="96" y1="650" x2="99" y2="650"/>
<line x1="901" y1="650" x2="904" y2="650"/>
<line x1="96" y1="670" x2="99" y2="670"/>
<line x1="901" y1="670" x2="904" y2="670"/>
<line x1="96" y1="690" x2="99" y2="690"/>
<line x1="901" y1="690" x2="904" y2="690"/>
<line x1="96" y1="710" x2="99" y2="710"/>
<line x1="901" y1="710" x2="904" y2="710"/>
<line x1="96" y1="730" x2="99" y2="730"/>
<line x1="901" y1="730" x2="904" y2="730"/>
<line x1="91" y1="750" x2="99" y2="750"/>
<line x1="901" y1="750" x2="909" y2="750"/>
<line x1="96" y1="770" x2="99" y2="770"/>
<line x1="901" y1="770" x2="904" y2="770"/>
<line x1="96" y1="790" x2="99" y2="790"/>
<line x1="901" y1="790" x2="904" y2="790"/>
<line x1="96" y1="810" x2="99" y2="810"/>
<line x1="901" y1="810" x2="904" y2="810"/>
<line x1="96" y1="830" x2="99" y2="830"/>
<line x1="901" y1="830" x2="904" y2="830"/>
<line x1="96" y1="850" x2="99" y2="850"/>
<line x1="901" y1="850" x2="904" y2="850"/>
<line x1="96" y1="870" x2="99" y2="870"/>
<line x1="901" y1="870" x2="904" y2="870"/>
<line x1="96" y1="890" x2="99" y2="890"/>
<line x1="901" y1="890" x2="904" y2="890"/>
<line x1="96" y1="910" x2="99" y2="910"/>
<line x1="901" y1="910" x2="904" y2="910"/>
<line x1="96" y1="930" x2="99" y2="930"/>
<line x1="901" y1="930" x2="904" y2="930"/>
<line x1="91" y1="950" x2="99" y2="950"/>
<line x1="901" y1="950" x2="909" y2="950"/>
</g>
<g id="labels" class="ax">
<text x="185.7" y="134.9" text-anchor="middle">−89°15'</text>
<text x="185.7" y="972.7" text-anchor="middle">−89°15'</text>
<text x="328.6" y="134.9" text-anchor="middle">−89°00'</text>
<text x="328.6" y="972.7" text-anchor="middle">−89°00'</text>
<text x="471.4" y="134.9" text-anchor="middle">−88°45'</text>
<text x="471.4" y="972.7" text-anchor="middle">−88°45'</text>
<text x="614.3" y="134.9" text-anchor="middle">−88°30'</text>
<text x="614.3" y="972.7" text-anchor="middle">−88°30'</text>
<text x="757.1" y="134.9" text-anchor="middle">−88°15'</text>
<text x="757.1" y="972.7" text-anchor="middle">−88°15'</text>
<text x="900.0" y="134.9" text-anchor="middle">−88°00'</text>
<text x="900.0" y="972.7" text-anchor="middle">−88°00'</text>
<text x="85" y="153.8" text-anchor="end">30°30'</text>
<text x="915.2" y="153.8">30°30'</text>
<text x="85" y="353.8" text-anchor="end">30°15'</text>
<text x="915.2" y="353.8">30°15'</text>
<text x="85" y="553.8" text-anchor="end">30°00'</text>
<text x="915.2" y="553.8">30°00'</text>
<text x="85" y="753.8" text-anchor="end">29°45'</text>
<text x="915.2" y="753.8">29°45'</text>
<text x="85" y="953.8" text-anchor="end">29°30'</text>
<text x="915.2" y="953.8">29°30'</text>
</g>

<!-- colorbar -->
<rect x="980.2" y="400" width="20.4" height="300" fill="url(#cbar)" stroke="#000" stroke-width="2.6"/>
<g id="cbgrid" stroke="#c8c8c8" stroke-opacity="0.85" stroke-width="1.6">
<line x1="981.5" y1="700.0" x2="999.3" y2="700.0"/>
<line x1="981.5" y1="662.5" x2="999.3" y2="662.5"/>
<line x1="981.5" y1="625.0" x2="999.3" y2="625.0"/>
<line x1="981.5" y1="587.5" x2="999.3" y2="587.5"/>
<line x1="981.5" y1="550.0" x2="999.3" y2="550.0"/>
<line x1="981.5" y1="512.5" x2="999.3" y2="512.5"/>
<line x1="981.5" y1="475.0" x2="999.3" y2="475.0"/>
<line x1="981.5" y1="437.5" x2="999.3" y2="437.5"/>
<line x1="981.5" y1="400.0" x2="999.3" y2="400.0"/>
</g>
<g id="cbticks" stroke="#000" stroke-width="1.1">
<line x1="1001.6" y1="700.0" x2="1008.4" y2="700.0"/>
<line x1="1001.6" y1="662.5" x2="1008.4" y2="662.5"/>
<line x1="1001.6" y1="625.0" x2="1008.4" y2="625.0"/>
<line x1="1001.6" y1="587.5" x2="1008.4" y2="587.5"/>
<line x1="1001.6" y1="550.0" x2="1008.4" y2="550.0"/>
<line x1="1001.6" y1="512.5" x2="1008.4" y2="512.5"/>
<line x1="1001.6" y1="475.0" x2="1008.4" y2="475.0"/>
<line x1="1001.6" y1="437.5" x2="1008.4" y2="437.5"/>
<line x1="1001.6" y1="400.0" x2="1008.4" y2="400.0"/>
</g>
<g id="cblabels" font-size="11.2" letter-spacing="0.5" fill="#111">
<text x="1015" y="704.0">28</text>
<text x="1015" y="666.5">29</text>
<text x="1015" y="629.0">30</text>
<text x="1015" y="591.5">31</text>
<text x="1015" y="554.0">32</text>
<text x="1015" y="516.5">33</text>
<text x="1015" y="479.0">34</text>
<text x="1015" y="441.5">35</text>
<text x="1015" y="404.0">36</text>
</g>
<text class="sb" font-size="13.8" text-anchor="middle" transform="translate(1055.1 550.2) rotate(-90)">Salinity (psu)</text>
</svg>
</body></html>
